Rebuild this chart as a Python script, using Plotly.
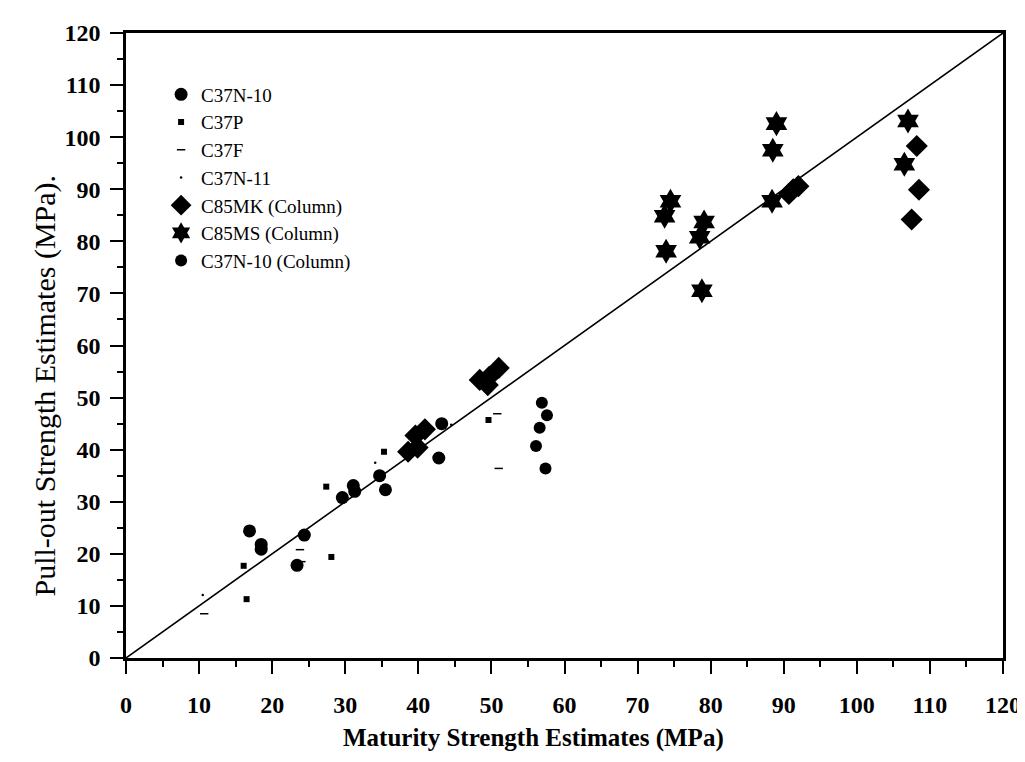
import plotly.graph_objects as go

# ---- data ----
c37n10_x = [16.9, 18.5, 18.5, 24.4, 23.4, 29.6, 31.1, 31.3, 34.7, 35.5, 43.2, 42.8]
c37n10_y = [24.4, 21.8, 20.9, 23.6, 17.8, 30.8, 33.1, 32.0, 35.0, 32.3, 45.0, 38.4]

c37p_x = [16.1, 16.5, 27.4, 28.1, 35.3, 49.6]
c37p_y = [17.7, 11.3, 32.9, 19.4, 39.6, 45.7]

c37f_x = [10.7, 23.8, 24.0, 50.8, 51.0]
c37f_y = [8.5, 20.8, 18.5, 46.9, 36.4]

c37n11_x = [10.5, 34.1, 44.5]
c37n11_y = [12.1, 37.5, 44.8]

c85mk_x = [38.6, 39.9, 39.6, 40.9, 48.4, 49.5, 49.7, 51.0, 90.7, 91.3, 92.0, 108.2, 108.5, 107.5]
c85mk_y = [39.6, 40.4, 42.7, 43.9, 53.4, 52.4, 54.0, 55.7, 89.1, 90.0, 90.6, 98.3, 89.9, 84.2]

c85ms_x = [89.0, 88.5, 74.5, 73.7, 73.9, 79.1, 78.5, 78.8, 88.4, 107.0, 106.5]
c85ms_y = [102.6, 97.5, 87.7, 84.8, 78.1, 83.7, 80.8, 70.5, 87.7, 103.1, 94.8]

c37n10col_x = [56.9, 57.6, 56.6, 56.1, 57.4]
c37n10col_y = [49.0, 46.6, 44.2, 40.7, 36.4]

line_x = [0, 120]
line_y = [0, 120]

tick_vals = [0, 10, 20, 30, 40, 50, 60, 70, 80, 90, 100, 110, 120]
tick_text = [str(v) for v in tick_vals]

x_title = "Maturity Strength Estimates (MPa)"
y_title = "Pull-out Strength Estimates (MPa)."

FONT = "Liberation Serif"
W, H = 1025, 762
ML, MR, MT, MB = 118, 26, 20, 112

fig = go.Figure()

fig.add_trace(go.Scatter(x=line_x, y=line_y, mode="lines",
                         line=dict(color="black", width=1.6),
                         showlegend=False, hoverinfo="skip"))

fig.add_trace(go.Scatter(x=c37n10_x, y=c37n10_y, mode="markers", name="C37N-10",
                         marker=dict(symbol="circle", size=13, color="black")))
fig.add_trace(go.Scatter(x=c37p_x, y=c37p_y, mode="markers", name="C37P",
                         marker=dict(symbol="square", size=6, color="black")))
fig.add_trace(go.Scatter(x=c37f_x, y=c37f_y, mode="markers", name="C37F",
                         marker=dict(symbol="line-ew", size=6,
                                     line=dict(color="black", width=1.5))))
fig.add_trace(go.Scatter(x=c37n11_x, y=c37n11_y, mode="markers", name="C37N-11",
                         marker=dict(symbol="circle", size=2.5, color="black")))
fig.add_trace(go.Scatter(x=c85mk_x, y=c85mk_y, mode="markers", name="C85MK (Column)",
                         marker=dict(symbol="diamond", size=17, color="black")))
fig.add_trace(go.Scatter(x=c85ms_x, y=c85ms_y, mode="markers", name="C85MS (Column)",
                         marker=dict(symbol="hexagram", size=19, color="black")))
fig.add_trace(go.Scatter(x=c37n10col_x, y=c37n10col_y, mode="markers",
                         name="C37N-10 (Column)",
                         marker=dict(symbol="circle", size=12, color="black")))

axis_common = dict(
    range=[0, 120],
    tickmode="array", tickvals=tick_vals, ticktext=tick_text,
    ticks="outside", ticklen=13, tickwidth=2, tickcolor="black",
    showline=True, linecolor="black", linewidth=2.5, mirror=True,
    showgrid=False, zeroline=False,
    tickfont=dict(family=FONT, size=24, color="black", weight="bold"),
    minor=dict(dtick=5, tick0=0, ticks="outside", ticklen=6, tickwidth=2,
               tickcolor="black", showgrid=False),
)

fig.update_xaxes(**axis_common, ticklabelstandoff=10)
fig.update_yaxes(**axis_common, ticklabelstandoff=5)

pw = W - ML - MR
ph = H - MT - MB

fig.add_annotation(text=x_title, xref="paper", yref="paper",
                   x=(527 - ML) / pw, y=-(731 - (H - MB)) / ph,
                   xanchor="center", yanchor="middle", showarrow=False,
                   font=dict(family=FONT, size=25, color="black", weight="bold"))
fig.add_annotation(text=y_title, xref="paper", yref="paper",
                   x=-(ML - 37) / pw, y=1 - (375 - MT) / ph, textangle=-90,
                   xanchor="center", yanchor="middle", showarrow=False,
                   font=dict(family=FONT, size=30, color="black"))

fig.update_layout(
    width=W, height=H,
    margin=dict(l=ML, r=MR, t=MT, b=MB),
    paper_bgcolor="white", plot_bgcolor="white",
    legend=dict(x=0.04, y=0.932, xanchor="left", yanchor="top",
                bgcolor="rgba(0,0,0,0)", borderwidth=0,
                font=dict(family=FONT, size=19, color="black"),
                itemwidth=30, tracegroupgap=0),
)

fig.write_html("out.html")
